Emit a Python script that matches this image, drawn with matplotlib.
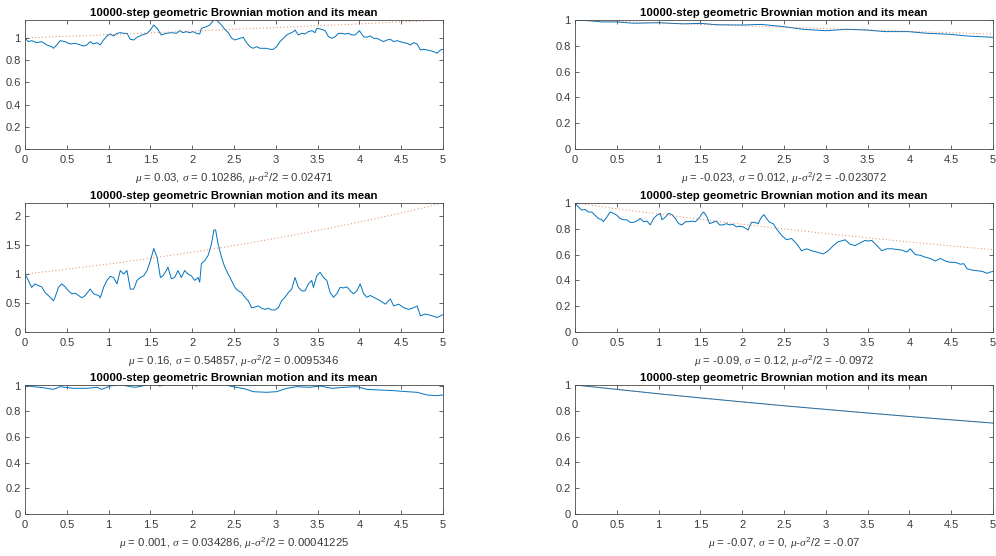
import numpy as np
import matplotlib
matplotlib.use("Agg")
import matplotlib.pyplot as plt

plt.rcParams['font.family'] = ['Liberation Sans', 'DejaVu Sans']
plt.rcParams['mathtext.fontset'] = 'custom'
plt.rcParams['mathtext.rm'] = 'Liberation Sans'
plt.rcParams['mathtext.it'] = 'Liberation Serif:italic'

TITLE = "10000-step geometric Brownian motion and its mean"
xticks = [0, 0.5, 1, 1.5, 2, 2.5, 3, 3.5, 4, 4.5, 5]
xtick_labels = ["0", "0.5", "1", "1.5", "2", "2.5", "3", "3.5", "4", "4.5", "5"]
yticks = [0, 0.2, 0.4, 0.6, 0.8, 1.0]
ytick_labels = ["0", "0.2", "0.4", "0.6", "0.8", "1"]
yticks_big = [0, 0.5, 1, 1.5, 2]
ytick_labels_big = ["0", "0.5", "1", "1.5", "2"]

labels = [
    r"$\mu$ = 0.03, $\sigma$ = 0.10286, $\mu$-$\sigma^2$/2 = 0.02471",
    r"$\mu$ = -0.023, $\sigma$ = 0.012, $\mu$-$\sigma^2$/2 = -0.023072",
    r"$\mu$ = 0.16, $\sigma$ = 0.54857, $\mu$-$\sigma^2$/2 = 0.0095346",
    r"$\mu$ = -0.09, $\sigma$ = 0.12, $\mu$-$\sigma^2$/2 = -0.0972",
    r"$\mu$ = 0.001, $\sigma$ = 0.034286, $\mu$-$\sigma^2$/2 = 0.00041225",
    r"$\mu$ = -0.07, $\sigma$ = 0, $\mu$-$\sigma^2$/2 = -0.07",
]

# ---- paths ----
t1 = [0, 0.04, 0.08, 0.14, 0.20, 0.26, 0.32, 0.34, 0.38, 0.42, 0.48, 0.54, 0.60, 0.66, 0.70, 0.74, 0.78,
      0.82, 0.86, 0.90, 0.94, 0.98, 1.02, 1.06, 1.10, 1.14, 1.18, 1.22, 1.26, 1.30, 1.34, 1.40, 1.46, 1.50,
      1.54, 1.58, 1.63, 1.69, 1.75, 1.81, 1.85, 1.89, 1.93, 1.97, 2.01, 2.05, 2.09, 2.11, 2.17, 2.21, 2.25,
      2.27, 2.31, 2.35, 2.39, 2.43, 2.47, 2.51, 2.57, 2.61, 2.65, 2.69, 2.73, 2.77, 2.81, 2.85, 2.89, 2.93,
      2.97, 3.01, 3.05, 3.09, 3.13, 3.17, 3.21, 3.23, 3.27, 3.31, 3.35, 3.39, 3.43, 3.47, 3.49, 3.55, 3.59,
      3.63, 3.67, 3.71, 3.75, 3.79, 3.83, 3.87, 3.91, 3.95, 4.00, 4.05, 4.09, 4.13, 4.17, 4.21, 4.25, 4.29,
      4.33, 4.37, 4.41, 4.45, 4.49, 4.53, 4.57, 4.61, 4.65, 4.69, 4.73, 4.77, 4.81, 4.85, 4.89, 4.93, 4.97, 5.0]
v1 = [1.0, 0.967, 0.976, 0.958, 0.967, 0.937, 0.922, 0.907, 0.937, 0.976, 0.967, 0.946, 0.952, 0.937, 0.928,
      0.937, 0.967, 0.946, 0.958, 0.937, 0.982, 1.018, 1.036, 1.018, 1.042, 1.048, 1.042, 1.042, 0.988, 0.982,
      1.006, 1.027, 1.042, 1.072, 1.117, 1.087, 1.027, 1.042, 1.048, 1.042, 1.066, 1.048, 1.057, 1.048, 1.057,
      1.042, 1.036, 1.087, 1.102, 1.117, 1.156, 1.175, 1.147, 1.117, 1.078, 1.05, 1.0, 0.982, 0.997, 1.006,
      0.958, 0.922, 0.907, 0.922, 0.907, 0.907, 0.907, 0.898, 0.898, 0.922, 0.967, 0.997, 1.027, 1.042, 1.057,
      1.072, 1.027, 1.042, 1.036, 1.057, 1.066, 1.048, 1.087, 1.078, 1.066, 1.012, 0.997, 1.012, 1.042, 1.042,
      1.036, 1.042, 1.027, 1.027, 1.066, 1.012, 1.006, 1.018, 0.997, 0.997, 0.982, 0.967, 0.982, 0.988, 0.967,
      0.976, 0.967, 0.958, 0.952, 0.937, 0.958, 0.946, 0.892, 0.898, 0.892, 0.886, 0.877, 0.862, 0.892, 0.898]

t2 = [0, 0.22, 0.32, 0.5, 0.7, 1.0, 1.3, 1.5, 1.7, 2.0, 2.23, 2.5, 2.73, 3.0, 3.25, 3.49, 3.71, 3.99,
      4.21, 4.49, 4.69, 5.0]
v2 = [1.0, 0.992, 0.985, 0.985, 0.975, 0.979, 0.970, 0.974, 0.963, 0.961, 0.966, 0.948, 0.928, 0.917,
      0.928, 0.922, 0.910, 0.910, 0.897, 0.889, 0.876, 0.866]

t3 = [0, 0.03, 0.08, 0.12, 0.16, 0.20, 0.24, 0.28, 0.32, 0.34, 0.36, 0.40, 0.44, 0.48, 0.52, 0.56, 0.60,
      0.64, 0.68, 0.72, 0.78, 0.82, 0.88, 0.90, 0.94, 0.98, 1.02, 1.06, 1.10, 1.14, 1.18, 1.22, 1.26, 1.30,
      1.34, 1.38, 1.42, 1.46, 1.50, 1.54, 1.58, 1.62, 1.65, 1.69, 1.71, 1.75, 1.79, 1.83, 1.87, 1.91, 1.95,
      1.99, 2.03, 2.07, 2.09, 2.11, 2.15, 2.19, 2.23, 2.26, 2.28, 2.31, 2.35, 2.39, 2.43, 2.47, 2.51, 2.55,
      2.59, 2.63, 2.67, 2.71, 2.75, 2.79, 2.83, 2.87, 2.91, 2.95, 2.99, 3.03, 3.07, 3.11, 3.15, 3.19, 3.23,
      3.27, 3.31, 3.35, 3.39, 3.43, 3.45, 3.49, 3.53, 3.57, 3.61, 3.65, 3.69, 3.73, 3.77, 3.81, 3.85, 3.89,
      3.93, 3.97, 4.01, 4.05, 4.09, 4.13, 4.17, 4.25, 4.31, 4.37, 4.41, 4.47, 4.53, 4.59, 4.65, 4.69, 4.73,
      4.79, 4.87, 4.93, 5.0]
v3 = [1.0, 0.92, 0.77, 0.83, 0.80, 0.78, 0.68, 0.63, 0.57, 0.54, 0.60, 0.77, 0.83, 0.78, 0.71, 0.66, 0.67,
      0.63, 0.59, 0.63, 0.74, 0.66, 0.63, 0.59, 0.77, 0.89, 0.96, 0.94, 0.83, 1.06, 1.00, 1.06, 0.74, 0.74,
      0.89, 0.94, 0.97, 1.06, 1.23, 1.44, 1.29, 0.94, 0.97, 1.06, 1.12, 0.92, 0.94, 1.06, 0.94, 1.06, 1.00,
      0.97, 0.89, 0.94, 0.86, 1.18, 1.23, 1.32, 1.52, 1.76, 1.76, 1.52, 1.29, 1.12, 1.00, 0.89, 0.77, 0.71,
      0.68, 0.60, 0.54, 0.42, 0.43, 0.45, 0.41, 0.39, 0.41, 0.38, 0.38, 0.42, 0.54, 0.60, 0.68, 0.74, 0.94,
      0.77, 0.71, 0.71, 0.83, 0.89, 0.77, 0.97, 1.03, 0.94, 0.89, 0.68, 0.60, 0.66, 0.77, 0.76, 0.78, 0.71,
      0.66, 0.71, 0.83, 0.66, 0.60, 0.63, 0.60, 0.54, 0.48, 0.57, 0.45, 0.48, 0.42, 0.39, 0.42, 0.45, 0.28,
      0.31, 0.28, 0.25, 0.30]

t4 = [0, 0.04, 0.08, 0.12, 0.16, 0.20, 0.24, 0.28, 0.32, 0.34, 0.38, 0.42, 0.46, 0.50, 0.54, 0.58, 0.62,
      0.66, 0.70, 0.74, 0.78, 0.82, 0.86, 0.90, 0.94, 0.98, 1.02, 1.04, 1.08, 1.12, 1.16, 1.20, 1.24, 1.28,
      1.32, 1.36, 1.40, 1.44, 1.48, 1.52, 1.54, 1.58, 1.61, 1.65, 1.69, 1.73, 1.77, 1.81, 1.85, 1.89, 1.93,
      1.97, 2.01, 2.05, 2.07, 2.11, 2.15, 2.19, 2.23, 2.26, 2.29, 2.33, 2.37, 2.41, 2.47, 2.53, 2.59, 2.65,
      2.71, 2.77, 2.83, 2.89, 2.97, 3.03, 3.09, 3.15, 3.21, 3.23, 3.29, 3.35, 3.41, 3.47, 3.51, 3.55, 3.61,
      3.67, 3.73, 3.79, 3.85, 3.91, 3.97, 4.01, 4.07, 4.13, 4.19, 4.25, 4.31, 4.37, 4.43, 4.49, 4.55, 4.61,
      4.65, 4.69, 4.75, 4.81, 4.87, 4.93, 4.97, 5.0]
v4 = [1.0, 0.97, 0.945, 0.95, 0.93, 0.93, 0.905, 0.88, 0.87, 0.855, 0.89, 0.93, 0.92, 0.905, 0.88, 0.87,
      0.87, 0.85, 0.85, 0.86, 0.88, 0.855, 0.86, 0.83, 0.88, 0.905, 0.92, 0.87, 0.89, 0.92, 0.91, 0.88, 0.84,
      0.83, 0.855, 0.855, 0.86, 0.855, 0.88, 0.92, 0.93, 0.89, 0.84, 0.85, 0.86, 0.83, 0.83, 0.84, 0.83,
      0.835, 0.815, 0.82, 0.815, 0.80, 0.79, 0.85, 0.85, 0.84, 0.89, 0.91, 0.88, 0.85, 0.84, 0.80, 0.75,
      0.715, 0.725, 0.685, 0.63, 0.645, 0.63, 0.62, 0.605, 0.63, 0.67, 0.70, 0.71, 0.715, 0.68, 0.67, 0.69,
      0.71, 0.705, 0.71, 0.67, 0.63, 0.645, 0.645, 0.64, 0.635, 0.62, 0.645, 0.60, 0.595, 0.58, 0.57, 0.55,
      0.57, 0.55, 0.54, 0.54, 0.525, 0.53, 0.49, 0.48, 0.475, 0.47, 0.455, 0.465, 0.47]

t5 = [0, 0.10, 0.22, 0.34, 0.42, 0.58, 0.74, 0.86, 0.92, 1.02, 1.14, 1.26, 1.32, 1.42, 1.54, 1.61, 1.70,
      1.81, 1.95, 2.05, 2.11, 2.22, 2.30, 2.38, 2.45, 2.53, 2.63, 2.73, 2.89, 3.01, 3.13, 3.25, 3.41, 3.53,
      3.67, 3.81, 3.97, 4.09, 4.25, 4.41, 4.57, 4.69, 4.81, 4.92, 5.0]
v5 = [1.0, 0.992, 0.984, 0.971, 0.992, 0.979, 0.979, 0.987, 0.971, 0.997, 1.008, 0.992, 0.987, 1.0, 1.02,
      0.997, 1.01, 1.005, 1.012, 0.997, 1.015, 1.02, 1.035, 1.015, 0.997, 0.987, 0.975, 0.953, 0.948, 0.953,
      0.979, 0.992, 0.987, 0.997, 0.979, 0.987, 0.992, 0.971, 0.966, 0.961, 0.953, 0.948, 0.927, 0.922, 0.927]

t6 = [0, 0.5, 1, 1.5, 2, 2.5, 3, 3.5, 4, 4.5, 5]
v6 = [1.0, 0.966, 0.932, 0.900, 0.869, 0.839, 0.811, 0.783, 0.756, 0.730, 0.705]

# ---- means ----
tm = [0, 0.5, 1, 1.5, 2, 2.5, 3, 3.5, 4, 4.5, 5]
m1 = [1.0, 1.015, 1.030, 1.046, 1.062, 1.078, 1.094, 1.111, 1.127, 1.145, 1.162]
m2 = [1.0, 0.989, 0.977, 0.966, 0.955, 0.944, 0.933, 0.923, 0.912, 0.902, 0.891]
m3 = [1.0, 1.083, 1.174, 1.271, 1.377, 1.492, 1.616, 1.751, 1.896, 2.054, 2.226]
m4 = [1.0, 0.956, 0.914, 0.874, 0.835, 0.799, 0.763, 0.730, 0.698, 0.667, 0.638]
m5 = [1.0, 1.0005, 1.001, 1.0015, 1.002, 1.0025, 1.003, 1.0035, 1.004, 1.0045, 1.005]
m6 = [1.0, 0.966, 0.932, 0.900, 0.869, 0.839, 0.811, 0.783, 0.756, 0.730, 0.705]

paths = [(t1, v1, m1), (t2, v2, m2), (t3, v3, m3), (t4, v4, m4), (t5, v5, m5), (t6, v6, m6)]

BLUE = "#0072BD"
ORANGE = "#D95319"
AXC = "#4a4a4a"
TXC = "#3a3a3a"

fig = plt.figure(figsize=(9.96, 5.56), dpi=100)
W = 996.0
H = 556.0
lefts = [25, 575]
tops = [20, 203, 385]
aw = 418
ah = 129

for i, (t, v, m) in enumerate(paths):
    r, c = divmod(i, 2)
    ax = fig.add_axes([lefts[c] / W, 1 - (tops[r] + ah) / H, aw / W, ah / H])
    ax.plot(t, v, color=BLUE, lw=0.7)
    ax.plot(tm, m, color=ORANGE, lw=0.7, alpha=0.75, linestyle=(0, (1, 2.5)))
    ax.set_xlim(0, 5)
    ax.set_ylim(0, max(m))
    ax.set_xticks(xticks)
    ax.set_xticklabels(xtick_labels)
    if i == 2:
        ax.set_yticks(yticks_big)
        ax.set_yticklabels(ytick_labels_big)
    else:
        ax.set_yticks(yticks)
        ax.set_yticklabels(ytick_labels)
    ax.tick_params(direction="in", length=3, width=0.6, colors=AXC, labelcolor=TXC, labelsize=8,
                   top=True, right=True)
    ax.tick_params(axis="x", pad=4.5)
    ax.tick_params(axis="y", pad=3)
    for s in ax.spines.values():
        s.set_linewidth(0.6)
        s.set_color(AXC)
    ax.set_title(TITLE, fontsize=8.2, fontweight="bold", pad=3, color="black")
    ax.set_xlabel(labels[i], fontsize=8.2, labelpad=4, color=TXC)

fig.savefig("out.png", dpi=100)
